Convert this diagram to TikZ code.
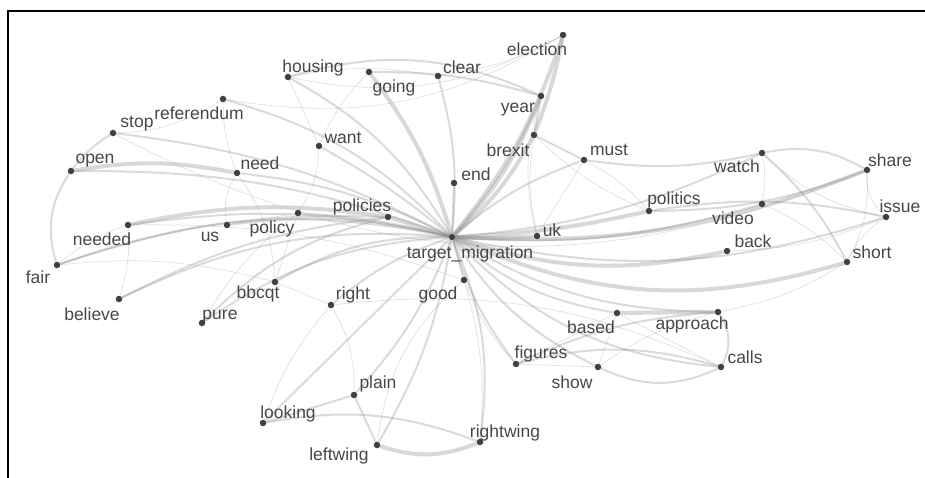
\documentclass[tikz,border=0pt]{standalone}
\usepackage{fontspec}
\newfontfamily\wordfont{Liberation Sans}
\usetikzlibrary{backgrounds}

\begin{document}
\begin{tikzpicture}[
  x=1pt, y=-1pt,
  word/.style={circle, fill=black!75, inner sep=0pt, minimum size=6.5pt},
  lbl/.style={text=black!72, inner sep=0pt, font=\wordfont\fontsize{17.5}{20}\selectfont},
  thinedge/.style={draw=black!40, opacity=.3, line width=0.7pt},
  midedge/.style={draw=black!45, opacity=.32, line width=2pt},
  thickedge/.style={draw=black!45, opacity=.34, line width=4pt}
]
\useasboundingbox (0,0) rectangle (925,478);
\draw[line width=1.3pt] (8,478) -- (8,11) -- (925,11);

% words: name / dot x / dot y / label x / label y / text
\foreach \n/\x/\y/\lx/\ly/\t in {
  tm/452/237/470/254/target\_migration,
  housing/288/77/313/68/housing,
  going/369/72/394/88/going,
  clear/438/76/462/67/clear,
  election/563/35/537/49/election,
  referendum/223/99/199/113/referendum,
  stop/113/133/137/124/stop,
  want/319/146/343/138/want,
  open/71/171/95/161/open,
  need/237/173/260/163/need,
  end/454/183/476/174/end,
  policies/388/217/362/207/policies,
  policy/298/213/272/229/policy,
  us/227/225/210/237/us,
  needed/128/225/102/239/needed,
  fair/57/265/38/277/fair,
  believe/119/299/92/314/believe,
  bbcqt/275/282/258/294/bbcqt,
  right/331/305/353/295/right,
  good/464/280/438/295/good,
  pure/202/323/220/317/pure,
  plain/354/395/378/384/plain,
  looking/263/423/288/414/looking,
  leftwing/377/445/339/456/leftwing,
  year/541/96/518/110/year,
  brexit/534/135/508/150/brexit,
  must/584/160/609/150/must,
  watch/762/153/737/166/watch,
  share/867/170/890/160/share,
  politics/649/211/674/200/politics,
  video/762/204/733/218/video,
  issue/886/217/900/206/issue,
  uk/537/236/552/230/uk,
  back/727/251/753/241/back,
  short/847/262/872/252/short,
  based/617/313/591/327/based,
  approach/718/312/692/325/approach,
  figures/516/364/541/354/figures,
  show/598/367/572/382/show,
  calls/721/367/745/357/calls,
  rightwing/480/442/505/433/rightwing} {
  \node[word] (\n) at (\x,\y) {};
  \node[lbl] (\n-l) at (\lx,\ly) {\t};
}

\begin{scope}[on background layer]
% heavy links
\foreach \a/\b/\c in {tm/election/-10, tm/policies/0, tm/uk/-3, tm/politics/-5,
  tm/back/-15, tm/short/-20, tm/year/-10, tm/brexit/-10, tm/going/-10, tm/share/-12,
  brexit/election/-5, needed/policies/10, open/need/10, based/approach/0,
  leftwing/rightwing/-20}
  \draw[thickedge] (\a) to[bend left=\c] (\b);
% medium links
\foreach \a/\b/\c in {tm/housing/-15, tm/clear/-10, tm/referendum/-15, tm/stop/-10,
  tm/want/-5, tm/need/-10, tm/open/-10, tm/end/0, tm/policy/-5, tm/us/-10,
  tm/needed/-10, tm/fair/-15, tm/believe/-15, tm/pure/-15, tm/bbcqt/-15,
  tm/right/-10, tm/good/0, tm/must/10, tm/watch/-10, tm/video/-10, tm/issue/-15,
  tm/based/-15, tm/approach/-15, tm/figures/-10, tm/show/-15, tm/calls/-20,
  tm/rightwing/15, tm/plain/10, tm/leftwing/10, tm/looking/0,
  housing/year/20, going/year/8, year/brexit/0, must/brexit/0, must/watch/-10,
  watch/share/20, share/politics/10, issue/politics/-10, watch/short/10,
  approach/calls/30, figures/calls/15, show/calls/-25, figures/approach/10,
  looking/plain/0, looking/rightwing/15, plain/leftwing/0, open/fair/-25,
  fair/policies/10, believe/policies/10, pure/policies/15, stop/open/-10}
  \draw[midedge] (\a) to[bend left=\c] (\b);
% light links
\foreach \a/\b/\c in {housing/want/0, referendum/stop/15, referendum/need/-10,
  going/want/-10, clear/election/-10, housing/election/-20, housing/clear/10,
  need/us/-20, need/bbcqt/15, us/policy/0, policy/bbcqt/0, bbcqt/right/0,
  pure/policy/10, looking/right/10, plain/right/-15, leftwing/good/20,
  rightwing/good/-10, must/uk/0, uk/brexit/10, uk/year/15, must/politics/10,
  watch/video/10, watch/issue/-15, share/issue/-25, share/short/15,
  issue/short/-15, video/short/10, back/issue/-10, based/figures/0,
  based/show/0, figures/show/0, based/calls/0, show/approach/10,
  approach/short/-10, brexit/politics/-10, fair/needed/10, believe/needed/-10,
  want/policy/15, referendum/election/-20, stop/share/-25, fair/bbcqt/10,
  needed/good/10, figures/good/10, right/calls/15}
  \draw[thinedge] (\a) to[bend left=\c] (\b);
\end{scope}
\end{tikzpicture}
\end{document}
